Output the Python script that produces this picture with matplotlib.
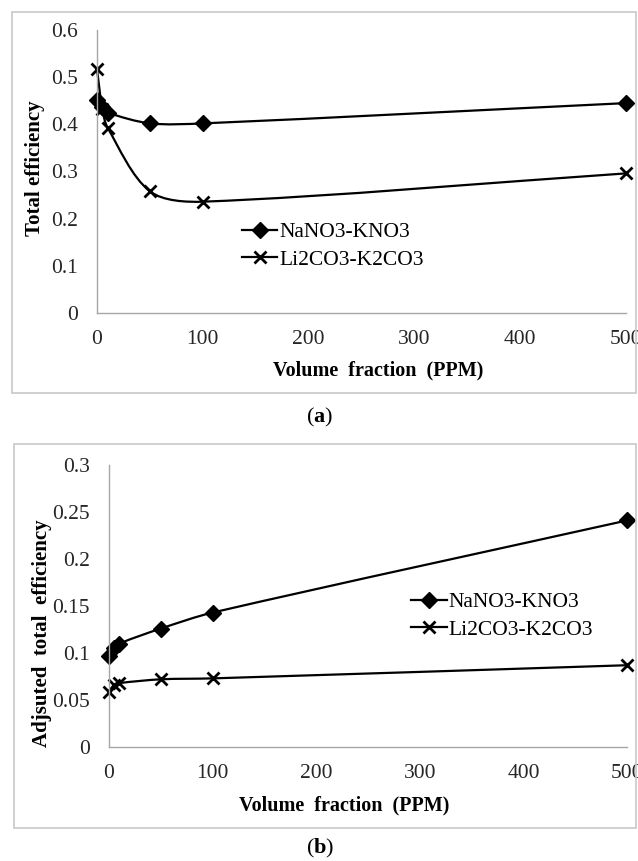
import numpy as np
import matplotlib
matplotlib.use('Agg')
import matplotlib.pyplot as plt
from matplotlib.path import Path
from matplotlib.patches import PathPatch, Rectangle
from matplotlib.lines import Line2D

plt.rcParams['font.family'] = 'Liberation Serif'
plt.rcParams['mathtext.fontset'] = 'custom'
plt.rcParams['mathtext.bf'] = 'Liberation Serif:bold'
plt.rcParams['mathtext.rm'] = 'Liberation Serif'

ppm = [0, 5, 10, 50, 100, 500]
series_names = ['NaNO3-KNO3', 'Li2CO3-K2CO3']

# (a) total efficiency
nano3_total = [0.452, 0.437, 0.425, 0.402, 0.402, 0.445]
li2co3_total = [0.517, 0.432, 0.393, 0.258, 0.236, 0.296]

# (b) adjusted total efficiency
nano3_adj = [0.097, 0.105, 0.110, 0.126, 0.143, 0.241]
li2co3_adj = [0.059, 0.066, 0.068, 0.072, 0.073, 0.087]

W, H = 638, 861
fig = plt.figure(figsize=(W / 100, H / 100), dpi=100)


def smooth_line(ax, x, y, k=0.3):
    # excel style smoothed line, built in screen space then mapped back to data
    p = ax.transData.transform(np.column_stack([x, y]).astype(float))
    n = len(p)
    tang = []
    for i in range(n):
        a = p[max(i - 1, 0)]
        b = p[min(i + 1, n - 1)]
        d = b - a
        tang.append(d / np.hypot(*d))
    verts = [p[0]]
    codes = [Path.MOVETO]
    for i in range(n - 1):
        seg = np.hypot(*(p[i + 1] - p[i]))
        c1 = p[i] + tang[i] * seg * k
        c2 = p[i + 1] - tang[i + 1] * seg * k
        verts += [c1, c2, p[i + 1]]
        codes += [Path.CURVE4] * 3
    verts = ax.transData.inverted().transform(np.array(verts))
    patch = PathPatch(Path(verts, codes), facecolor='none', edgecolor='black',
                      lw=1.6, transform=ax.transData, clip_on=False)
    ax.add_patch(patch)


def px_axes(l, t, r, b):
    return fig.add_axes([l / W, 1 - b / H, (r - l) / W, (b - t) / H])


def style(ax, ymax, ystep):
    ax.set_xlim(0, 500)
    ax.set_ylim(0, ymax)
    ax.set_xticks([0, 100, 200, 300, 400, 500])
    yt = np.arange(0, ymax + ystep / 2, ystep)
    ax.set_yticks(yt)
    ax.set_yticklabels([fmt(v) for v in yt])
    for s in ['top', 'right']:
        ax.spines[s].set_visible(False)
    for s in ['left', 'bottom']:
        ax.spines[s].set_color('#a6a6a6')
        ax.spines[s].set_linewidth(1.0)
    ax.tick_params(length=0, labelsize=15.5, colors='#262626')
    ax.tick_params(axis='y', pad=14)
    ax.tick_params(axis='x', pad=12)
    ax.patch.set_alpha(0)


def fmt(v):
    s = ('%.2f' % v).rstrip('0').rstrip('.')
    return s if s else '0'


def draw(ax, a, b):
    smooth_line(ax, ppm, a)
    smooth_line(ax, ppm, b)
    ax.plot(ppm, a, linestyle='none', marker='D', ms=8.5, color='black', clip_on=False)
    ax.plot(ppm, b, linestyle='none', marker='x', ms=9, mew=2, color='black', clip_on=False)


def legend(ax, x, y):
    h = [Line2D([], [], color='black', lw=1.6, marker='D', ms=8.5),
         Line2D([], [], color='black', lw=1.6, marker='x', ms=9, mew=2)]
    ax.legend(h, series_names, loc='center left', bbox_to_anchor=(x, y), frameon=False,
              fontsize=15.5, handlelength=1.65, handletextpad=0.1, labelspacing=0.35,
              borderpad=0, borderaxespad=0)


# panel (a)
ax1 = px_axes(97, 30, 626, 313)
style(ax1, 0.6, 0.1)
draw(ax1, nano3_total, li2co3_total)
legend(ax1, 0.274, 0.237)

# panel (b)
ax2 = px_axes(109, 465, 627, 747)
style(ax2, 0.3, 0.05)
draw(ax2, nano3_adj, li2co3_adj)
legend(ax2, 0.583, 0.4645)

# axis labels
fig.text(35 / W, 1 - 168 / H, 'Total efficiency', rotation=90, ha='center', va='center',
         fontsize=15, fontweight='bold')
fig.text(378 / W, 1 - 370 / H, 'Volume  fraction  (PPM)', ha='center', va='center',
         fontsize=14.5, fontweight='bold')
fig.text(42 / W, 1 - 633 / H, 'Adjsuted  total  efficiency', rotation=90, ha='center',
         va='center', fontsize=15, fontweight='bold')
fig.text(344 / W, 1 - 805 / H, 'Volume  fraction  (PPM)', ha='center', va='center',
         fontsize=14.5, fontweight='bold')

# panel frames
for (l, t, r, b) in [(12, 12, 636, 393), (14, 444, 636, 828)]:
    fig.patches.append(Rectangle((l / W, 1 - b / H), (r - l) / W, (b - t) / H,
                                 transform=fig.transFigure, fill=False,
                                 edgecolor='#c8c8c8', lw=1.2))

# captions
fig.text(320 / W, 1 - 417 / H, r'($\mathbf{a}$)', ha='center', va='center', fontsize=16)
fig.text(320 / W, 1 - 848 / H, r'($\mathbf{b}$)', ha='center', va='center', fontsize=16)

fig.savefig('out.png', dpi=100)
